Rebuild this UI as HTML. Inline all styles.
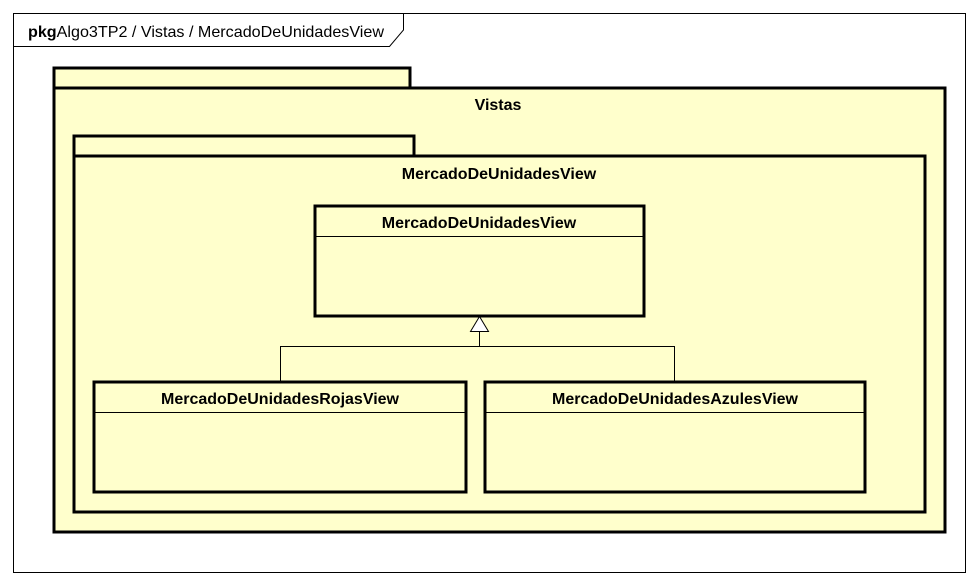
<!DOCTYPE html>
<html><head><meta charset="utf-8"><style>body{margin:0;background:#fff}svg{display:block}</style></head><body>
<svg width="978" height="585" viewBox="0 0 978 585" xmlns="http://www.w3.org/2000/svg" font-family="Liberation Sans, sans-serif">
<rect x="0" y="0" width="978" height="585" fill="#fff"/>
<rect x="13.5" y="13.5" width="952" height="559" fill="#fff" stroke="#000" stroke-width="1"/>
<path d="M13.5 46.5 H389.5 L403.5 30 V13.5" fill="none" stroke="#000" stroke-width="1"/>
<text x="28" y="37" font-size="16" textLength="356" lengthAdjust="spacingAndGlyphs"><tspan font-weight="bold">pkg</tspan>Algo3TP2 / Vistas / MercadoDeUnidadesView</text>
<g stroke="#000" stroke-width="3" fill="#ffffcc">
<rect x="54" y="68" width="356" height="20"/>
<rect x="54" y="88" width="891" height="444"/>
<rect x="74" y="136" width="340" height="20"/>
<rect x="74" y="156" width="851" height="356"/>
<rect x="315" y="206" width="329" height="110"/>
<rect x="94" y="382" width="372" height="110"/>
<rect x="485" y="382" width="380" height="110"/>
</g>
<g stroke="#000" stroke-width="1" fill="none">
<line x1="315" y1="236.5" x2="644" y2="236.5"/>
<line x1="94" y1="412.5" x2="466" y2="412.5"/>
<line x1="485" y1="412.5" x2="865" y2="412.5"/>
<path d="M479.5 331 V346.5 M280.5 381 V346.5 H674.5 V381"/>
<path d="M479.5 316.5 L470.5 331.5 H488.5 Z" fill="#fff"/>
</g>
<g font-weight="bold" font-size="16" text-anchor="middle">
<text x="498" y="110">Vistas</text>
<text x="499" y="179">MercadoDeUnidadesView</text>
<text x="479" y="228">MercadoDeUnidadesView</text>
<text x="280" y="404">MercadoDeUnidadesRojasView</text>
<text x="675" y="404">MercadoDeUnidadesAzulesView</text>
</g>
</svg>
</body></html>
